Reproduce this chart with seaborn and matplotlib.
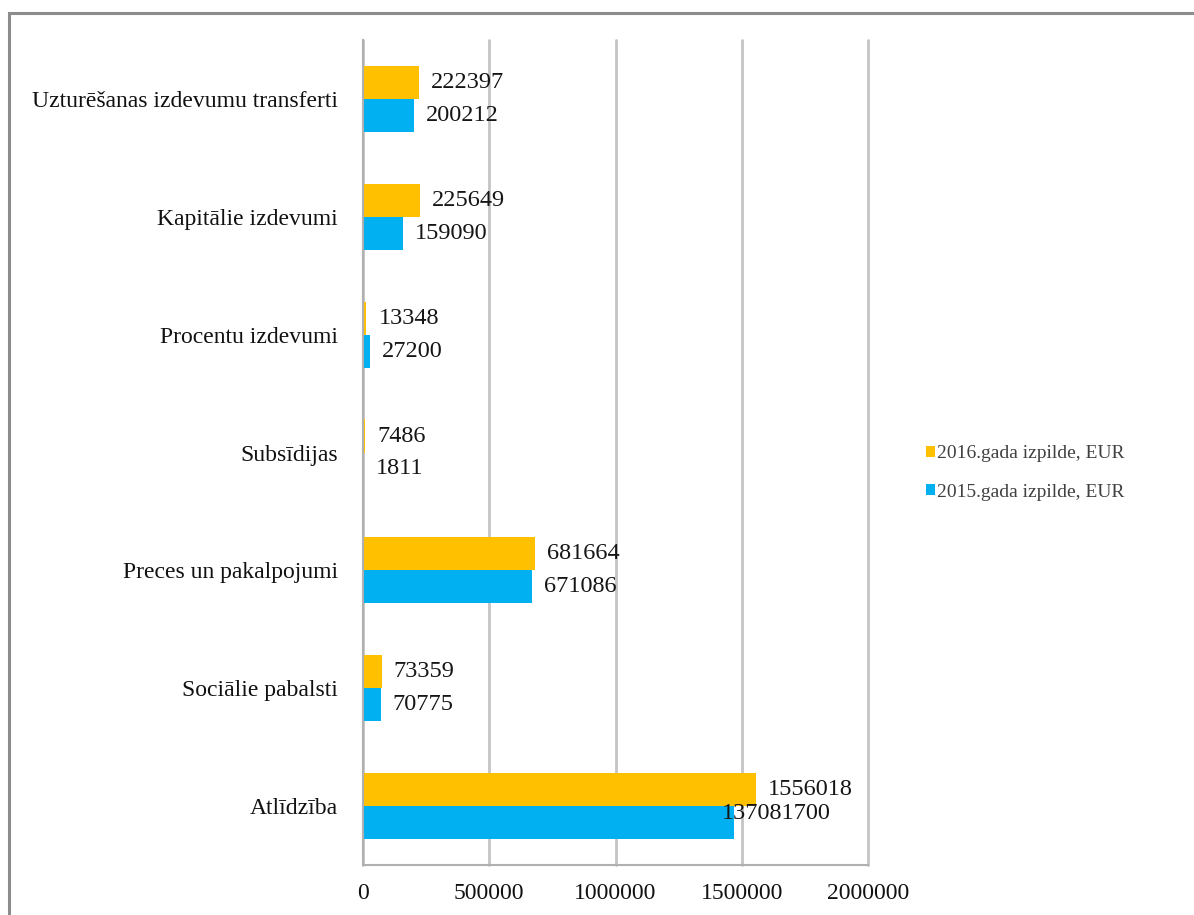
import matplotlib
matplotlib.use("Agg")
import matplotlib.pyplot as plt
import seaborn as sns
import pandas as pd
from matplotlib.patches import Rectangle

categories = [
    "Uzturēšanas izdevumu transferti",
    "Kapitālie izdevumi",
    "Procentu izdevumi",
    "Subsīdijas",
    "Preces un pakalpojumi",
    "Sociālie pabalsti",
    "Atlīdzība",
]
series_names = ["2016.gada izpilde, EUR", "2015.gada izpilde, EUR"]
values_2016 = [222397, 225649, 13348, 7486, 681664, 73359, 1556018]
values_2015 = [200212, 159090, 27200, 1811, 671086, 70775, 1470817]
labels_2016 = ["222397", "225649", "13348", "7486", "681664", "73359", "1556018"]
labels_2015 = ["200212", "159090", "27200", "1811", "671086", "70775", "137081700"]
x_ticks = [0, 500000, 1000000, 1500000, 2000000]
x_tick_labels = ["0", "500000", "1000000", "1500000", "2000000"]

colors = ["#FFC000", "#00B0F0"]

df = pd.DataFrame({
    "category": categories * 2,
    "series": [series_names[0]] * len(categories) + [series_names[1]] * len(categories),
    "value": values_2016 + values_2015,
})

sns.set_style("white")
plt.rcParams["font.family"] = ["Liberation Serif", "DejaVu Serif"]

fig = plt.figure(figsize=(11.94, 9.15), dpi=100)
ax = fig.add_axes([363 / 1194, 1 - 865 / 915, (868 - 363) / 1194, (865 - 40) / 915])

sns.barplot(data=df, y="category", x="value", hue="series", order=categories,
            hue_order=series_names, palette=colors, orient="h", width=0.56,
            gap=0, saturation=1, ax=ax, legend=True, edgecolor="none", linewidth=0)

ax.set_xlim(0, 2000000)
ax.set_xticks(x_ticks)
ax.set_xticklabels(x_tick_labels, fontsize=17, color="#111111")
ax.set_xlabel("")
ax.set_ylabel("")
ax.tick_params(axis="y", labelsize=17, pad=18, length=0, colors="#111111")
ax.tick_params(axis="x", pad=13, length=0)
ax.xaxis.grid(True, color="#C4C4C4", linewidth=2)
for gl in ax.get_xgridlines():
    gl.set_clip_on(False)
ax.set_axisbelow(True)
for s in ["top", "right"]:
    ax.spines[s].set_visible(False)
for s in ["left", "bottom"]:
    ax.spines[s].set_color("#B0B0B0")
    ax.spines[s].set_linewidth(1.5)

# data labels
conts = ax.containers
for cont, labs in zip(conts, [labels_2016, labels_2015]):
    for bar, lab in zip(cont, labs):
        w = bar.get_width()
        yc = bar.get_y() + bar.get_height() / 2
        off_x, off_y = 12, 0
        if len(lab) > 7:
            off_x, off_y = -13, 9
        ax.annotate(lab, xy=(w, yc), xytext=(off_x * 0.72, off_y * 0.72), textcoords="offset points",
                    ha="left", va="center", fontsize=17.5, color="#151515")

# legend
handles, lbls = ax.get_legend_handles_labels()
leg = ax.legend(handles, lbls, loc="center left", bbox_to_anchor=(908 / 1194, 1 - 473 / 915),
                bbox_transform=fig.transFigure, frameon=False, fontsize=14,
                handlelength=0.5, handleheight=0.5, handletextpad=0.1, labelspacing=1.1,
                labelcolor="#404040")

# outer frame
fig.patches.append(Rectangle((9 / 1194, -0.05), 1.2, 1 - 13 / 915 + 0.05, transform=fig.transFigure,
                             fill=False, edgecolor="#8C8C8C", linewidth=2.2))

fig.savefig("out.png", dpi=100)
